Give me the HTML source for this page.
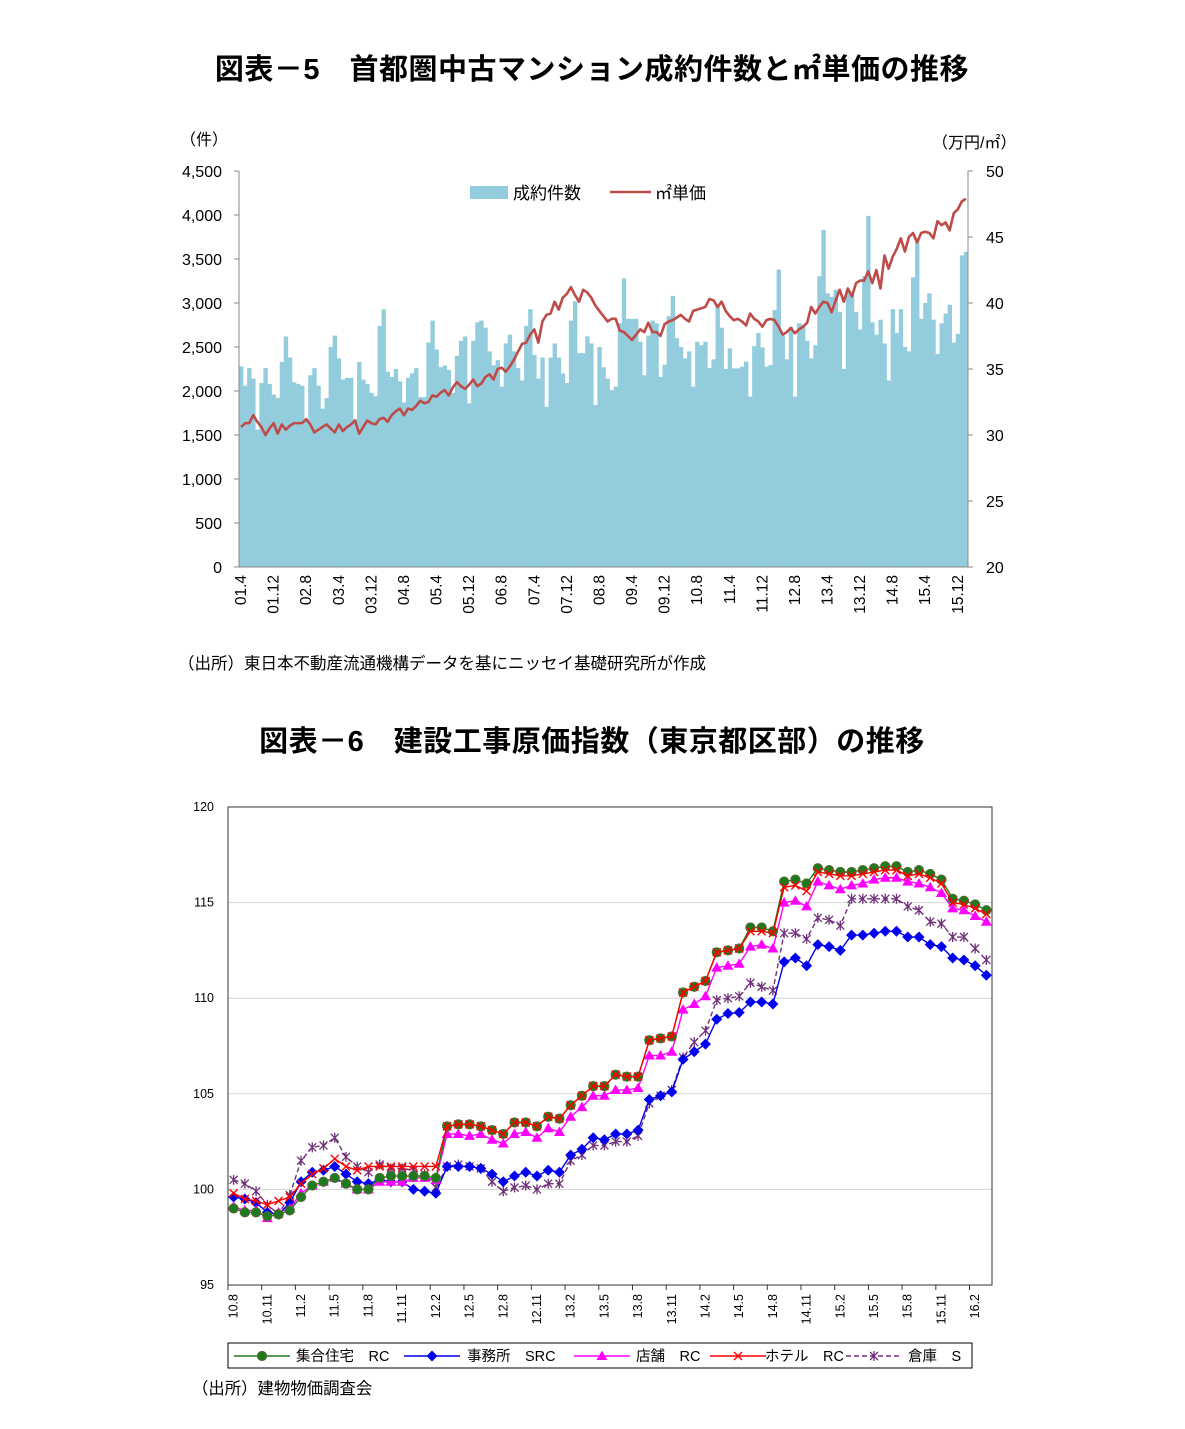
<!DOCTYPE html>
<html><head><meta charset="utf-8">
<style>
body{margin:0;background:#fff;width:1185px;height:1424px;overflow:hidden;font-family:"Liberation Sans","Noto Sans CJK JP",sans-serif;}
svg text{font-family:"Liberation Sans","Noto Sans CJK JP",sans-serif;}
</style></head>
<body>
<svg id="page" width="1185" height="1424" viewBox="0 0 1185 1424" xmlns="http://www.w3.org/2000/svg">
<text x="592" y="79" text-anchor="middle" font-size="29" letter-spacing="0.5" font-weight="bold" fill="#000">図表－5　首都圏中古マンション成約件数と㎡単価の推移</text>
<g id="c1"></g>
<text x="178" y="669" font-size="16.5" fill="#000">（出所）東日本不動産流通機構データを基にニッセイ基礎研究所が作成</text>
<text x="592" y="751" text-anchor="middle" font-size="29" letter-spacing="0.5" font-weight="bold" fill="#000">図表－6　建設工事原価指数（東京都区部）の推移</text>
<g id="c2"></g>
<text x="192" y="1394" font-size="16.4" fill="#000">（出所）建物物価調査会</text>
</svg>
<script>
// ===== Chart 1 data =====
const c1Labels=["01.4","01.12","02.8","03.4","03.12","04.8","05.4","05.12","06.8","07.4","07.12","08.8","09.4","09.12","10.8","11.4","11.12","12.8","13.4","13.12","14.8","15.4","15.12"];
const c1LeftTicks=[0,500,1000,1500,2000,2500,3000,3500,4000,4500];
const c1RightTicks=[20,25,30,35,40,45,50];
const contracts=[2280,2060,2260,2140,1560,2090,2260,2080,1960,1920,2330,2620,2380,2100,2080,2060,1670,2180,2260,2060,1800,1920,2500,2630,2370,2130,2150,2150,1680,2330,2130,2080,1980,1940,2740,2930,2220,2160,2250,2110,1870,2150,2200,2260,1930,1930,2550,2800,2470,2270,2290,2240,1980,2400,2570,2620,1860,2570,2780,2800,
2720,2450,2290,2350,2050,2540,2640,2450,2260,2120,2740,2930,2410,2140,2380,1820,2380,2540,2380,2200,2090,2800,3020,2430,2430,2620,2540,1840,2500,2270,2140,2010,2050,2770,3280,2820,2820,2820,2560,2180,2630,2800,2770,2160,2300,2850,3080,2600,2500,2370,2450,2050,2560,2520,2560,2260,2360,2960,2720,2250,
2485,2257,2257,2276,2333,1936,2510,2660,2495,2276,2295,2920,3380,2630,2360,2730,1936,2770,2750,2570,2370,2520,3305,3830,3110,3070,3150,2900,2250,3150,3110,2900,2700,3305,3990,2780,2640,2810,2540,2120,2930,2660,2930,2500,2450,3290,3720,2820,3000,3110,2810,2420,2770,2880,2980,2550,2650,3540,3580];
const unitPrice=[30.6,30.9,30.9,31.5,31.0,30.6,30.0,30.5,30.9,30.1,30.8,30.4,30.7,30.9,30.9,30.9,31.2,30.8,30.2,30.4,30.6,30.8,30.5,30.2,30.8,30.3,30.6,30.8,31.1,30.1,30.6,31.1,30.9,30.8,31.2,31.3,31.0,31.5,31.8,32.0,31.5,32.0,31.9,32.2,32.6,32.4,32.5,33.0,32.9,33.2,33.4,33.0,33.6,34.0,33.7,33.5,33.8,34.2,33.7,
33.9,34.4,34.6,34.2,35.0,35.1,34.8,35.2,35.7,36.3,36.9,37.0,37.6,38.0,37.0,38.6,39.1,39.2,40.1,39.5,40.4,40.7,41.2,40.6,40.1,41.0,40.8,40.4,39.8,39.4,39.0,38.6,38.8,38.8,37.9,37.8,37.5,37.2,37.6,38.0,37.8,38.5,37.8,37.8,37.5,38.4,38.6,38.7,38.9,39.1,38.8,38.6,39.4,39.5,39.6,39.7,40.3,40.2,39.7,40.1,39.4,
39.0,38.7,38.8,38.6,38.3,39.2,38.8,38.6,38.2,38.7,38.8,38.7,38.2,37.6,37.8,38.1,37.7,38.0,38.2,38.5,39.7,39.2,39.7,40.1,40.0,39.3,40.2,41.0,40.1,41.1,40.5,41.5,41.7,41.7,42.4,41.5,42.5,41.1,43.6,42.6,43.5,44.1,44.9,43.9,45.0,45.3,44.6,45.3,45.4,45.3,44.9,46.2,45.9,46.1,45.5,46.8,47.1,47.7,47.9];

// ===== Chart 2 data =====
const c2Labels=["10.8","10.11","11.2","11.5","11.8","11.11","12.2","12.5","12.8","12.11","13.2","13.5","13.8","13.11","14.2","14.5","14.8","14.11","15.2","15.5","15.8","15.11","16.2"];
const c2Ticks=[95,100,105,110,115,120];
const housingRC=[99.0,98.8,98.8,98.6,98.7,98.9,99.6,100.2,100.4,100.6,100.3,100.0,100.0,100.6,100.7,100.7,100.7,100.7,100.6,103.3,103.4,103.4,
103.3,103.1,102.9,103.5,103.5,103.3,103.8,103.7,104.4,104.9,105.4,105.4,106.0,105.9,105.9,107.8,107.9,108.0,110.3,110.6,110.9,
112.4,112.5,112.6,113.7,113.7,113.5,116.1,116.2,116.0,116.8,116.7,116.6,116.6,116.7,116.8,116.9,116.9,116.6,116.7,116.5,116.2,115.2,115.1,114.9,114.6];
const officeSRC=[99.6,99.5,99.3,98.8,98.7,99.3,100.4,100.9,101.0,101.2,100.8,100.4,100.3,100.5,100.4,100.4,100.0,99.9,99.8,101.2,101.2,101.2,
101.1,100.8,100.4,100.7,100.9,100.7,101.0,100.9,101.8,102.1,102.7,102.6,102.9,102.9,103.1,104.7,104.9,105.1,106.8,107.2,107.6,
108.9,109.2,109.25,109.8,109.8,109.7,111.9,112.1,111.7,112.8,112.7,112.5,113.3,113.3,113.4,113.5,113.5,113.2,113.2,112.8,112.7,112.1,112.0,111.7,111.2];
const shopRC=[99.1,98.9,98.9,98.5,98.8,99.0,99.8,100.2,100.4,100.6,100.3,100.0,100.0,100.4,100.4,100.4,100.6,100.6,100.5,102.9,102.9,102.8,
102.9,102.6,102.4,102.9,103.0,102.7,103.2,103.0,103.8,104.3,104.9,104.9,105.2,105.2,105.3,107.0,107.0,107.2,109.4,109.7,110.1,
111.6,111.7,111.8,112.7,112.8,112.6,115.0,115.1,114.8,116.1,115.9,115.7,115.9,116.0,116.2,116.3,116.3,116.1,116.0,115.8,115.5,114.7,114.6,114.3,114.0];
const hotelRC=[99.8,99.5,99.4,99.2,99.4,99.6,100.3,100.8,101.1,101.6,101.2,101.0,101.2,101.2,101.2,101.2,101.2,101.2,101.2,103.3,103.4,103.4,
103.3,103.1,102.9,103.5,103.5,103.3,103.8,103.7,104.4,104.9,105.4,105.4,106.0,105.9,105.9,107.8,107.9,108.0,110.3,110.6,110.9,
112.4,112.5,112.6,113.5,113.5,113.4,115.8,115.9,115.6,116.6,116.5,116.4,116.4,116.5,116.6,116.7,116.7,116.4,116.5,116.3,116.0,115.0,114.9,114.7,114.4];
const warehouseS=[100.5,100.3,99.9,99.2,98.7,99.7,101.5,102.2,102.3,102.7,101.7,101.2,100.9,101.3,101.1,101.1,101.0,100.8,100.1,101.2,101.3,101.2,
101.1,100.4,99.9,100.1,100.2,100.0,100.3,100.3,101.5,101.8,102.3,102.3,102.5,102.5,102.8,104.5,104.9,105.2,106.9,107.7,108.3,
109.9,110.0,110.1,110.8,110.6,110.4,113.4,113.4,113.1,114.2,114.1,113.8,115.2,115.2,115.2,115.2,115.2,114.8,114.6,114.0,113.9,113.2,113.2,112.6,112.0];

const NS='http://www.w3.org/2000/svg';
function mk(parent,tag,attrs,text){const e=document.createElementNS(NS,tag);for(const k in attrs)e.setAttribute(k,attrs[k]);if(text!==undefined)e.textContent=text;parent.appendChild(e);return e;}

// ===== Chart 1 =====
(function(){
const g=document.getElementById('c1');
const L=239,R=968,T=171,B=567;
const n=contracts.length;const bw=(R-L)/n;
const xC=i=>L+(i+0.5)*bw;
const yL=v=>B-v*(B-T)/4500;
const yR=p=>B-(p-20)*(B-T)/30;
contracts.forEach((v,i)=>{
  const r=mk(g,'rect',{x:(L+i*bw).toFixed(2),y:yL(v).toFixed(2),width:(bw+0.3).toFixed(2),height:(B-yL(v)).toFixed(2),fill:'#93CDDD'});
  
  
});
const pts=unitPrice.map((p,i)=>xC(i).toFixed(2)+','+yR(p).toFixed(2)).join(' ');
const pl=mk(g,'polyline',{points:pts,fill:'none',stroke:'#BE4B48','stroke-width':2.6,'stroke-linejoin':'round'});


const ax=mk(g,'line',{x1:L,y1:T,x2:L,y2:B,stroke:'#888','stroke-width':1});


const ax2=mk(g,'line',{x1:R,y1:T,x2:R,y2:B,stroke:'#888','stroke-width':1});


const ax3=mk(g,'line',{x1:L,y1:B,x2:R,y2:B,stroke:'#888','stroke-width':1});


c1LeftTicks.forEach(v=>{
  const y=yL(v);
  mk(g,'line',{x1:L-5,y1:y,x2:L,y2:y,stroke:'#888'});
  const t=mk(g,'text',{x:222,y:y+6,'text-anchor':'end','font-size':16,fill:'#000'},v.toLocaleString('en-US'));
  
  
});
c1RightTicks.forEach(v=>{
  const y=yR(v);
  mk(g,'line',{x1:R,y1:y,x2:R+5,y2:y,stroke:'#888'});
  const t=mk(g,'text',{x:986,y:y+6,'font-size':16,fill:'#000'},String(v));
  
  
});
c1Labels.forEach((lb,k)=>{
  const x=xC(k*8);
  const t=mk(g,'text',{x:0,y:0,transform:`translate(${(x+5).toFixed(1)},575) rotate(-90)`,'text-anchor':'end','font-size':15.5,fill:'#000'},lb);
  
  
});
const u1=mk(g,'text',{x:180,y:145,'font-size':16,fill:'#000'},'（件）');


const u2=mk(g,'text',{x:932,y:148,'font-size':16,fill:'#000'},'（万円/㎡）');


const lg=mk(g,'g',{});


mk(lg,'rect',{x:470,y:186,width:38,height:13,fill:'#93CDDD'});
mk(lg,'text',{x:513,y:199,'font-size':17,fill:'#000'},'成約件数');
mk(lg,'line',{x1:610,y1:192,x2:651,y2:192,stroke:'#BE4B48','stroke-width':2.6});
mk(lg,'text',{x:655,y:199,'font-size':17,fill:'#000'},'㎡単価');
})();

// ===== Chart 2 =====
(function(){
const g=document.getElementById('c2');
const L=228,R=992,T=807,B=1285;
const n=housingRC.length;const cw=(R-L)/n;
const xC=i=>L+(i+0.5)*cw;
const y=v=>B-(v-95)*(B-T)/25;
c2Ticks.forEach(v=>{
  if(v>95&&v<120){
    const gl=mk(g,'line',{x1:L,y1:y(v),x2:R,y2:y(v),stroke:'#d4d4d4','stroke-width':1});
    
    
  }
  const t=mk(g,'text',{x:214,y:y(v)+4,'text-anchor':'end','font-size':12.5,fill:'#000'},String(v));
  
  
});
const fr=mk(g,'rect',{x:L,y:T,width:R-L,height:B-T,fill:'none',stroke:'#333','stroke-width':1});


for(let k=0;k<=n;k+=3){const x=L+k*cw;mk(g,'line',{x1:x,y1:B,x2:x,y2:B+5,stroke:'#333'});}
c2Labels.forEach((lb,k)=>{
  const x=xC(k*3);
  const t=mk(g,'text',{x:0,y:0,transform:`translate(${(x+4).toFixed(1)},1294) rotate(-90)`,'text-anchor':'end','font-size':12.5,fill:'#000'},lb);
  
  
});
function marker(p,type,x,yy,color){
  if(type==='circle')return mk(p,'circle',{cx:x,cy:yy,r:4.6,fill:'#1F7A1F',stroke:'#556B2F','stroke-width':1});
  if(type==='diamond')return mk(p,'polygon',{points:`${x},${yy-5.5} ${x+5.5},${yy} ${x},${yy+5.5} ${x-5.5},${yy}`,fill:color});
  if(type==='tri')return mk(p,'polygon',{points:`${x},${yy-5.5} ${x+5.5},${yy+4} ${x-5.5},${yy+4}`,fill:color});
  if(type==='x')return mk(p,'path',{d:`M${x-4},${yy-4}L${x+4},${yy+4}M${x-4},${yy+4}L${x+4},${yy-4}`,stroke:color,'stroke-width':1.4,fill:'none'});
  if(type==='star')return mk(p,'path',{d:`M${x-4},${yy-4}L${x+4},${yy+4}M${x-4},${yy+4}L${x+4},${yy-4}M${x},${yy-5}L${x},${yy+5}`,stroke:color,'stroke-width':1.3,fill:'none'});
}
const series=[
 {d:warehouseS,c:'#70307A',m:'star',dash:'5,3',name:'warehouse-s-series'},
 {d:officeSRC,c:'#0000EE',m:'diamond',dash:null,name:'office-src-series'},
 {d:shopRC,c:'#FF00FF',m:'tri',dash:null,name:'shop-rc-series'},
 {d:housingRC,c:'#1F7A1F',m:'circle',dash:null,name:'housing-rc-series'},
 {d:hotelRC,c:'#FF0000',m:'x',dash:null,name:'hotel-rc-series'}
];
series.forEach(s=>{
  const sg=mk(g,'g',{});
  
  
  const a={points:s.d.map((v,i)=>xC(i).toFixed(2)+','+y(v).toFixed(2)).join(' '),fill:'none',stroke:s.c,'stroke-width':1.4};
  if(s.dash)a['stroke-dasharray']=s.dash;
  mk(sg,'polyline',a);
  s.d.forEach((v,i)=>{
    const mm=marker(sg,s.m,+xC(i).toFixed(2),+y(v).toFixed(2),s.c);
    
    
  });
});
const lg=mk(g,'g',{});


mk(lg,'rect',{x:228,y:1343,width:744,height:25,fill:'#fff',stroke:'#000','stroke-width':1});
const items=[
 {x:234,tx:296,c:'#1F7A1F',m:'circle',t:'集合住宅　RC',dash:null},
 {x:404,tx:467,c:'#0000EE',m:'diamond',t:'事務所　SRC',dash:null},
 {x:574,tx:636,c:'#FF00FF',m:'tri',t:'店舗　RC',dash:null},
 {x:710,tx:765,c:'#FF0000',m:'x',t:'ホテル　RC',dash:null},
 {x:846,tx:908,c:'#70307A',m:'star',t:'倉庫　S',dash:'5,3'}
];
items.forEach(it=>{
  const eg=mk(lg,'g',{});
  
  
  const a={x1:it.x,y1:1356,x2:it.x+56,y2:1356,stroke:it.c,'stroke-width':1.4};
  if(it.dash)a['stroke-dasharray']=it.dash;
  mk(eg,'line',a);
  marker(eg,it.m,it.x+28,1356,it.c);
  mk(eg,'text',{x:it.tx,y:1361,'font-size':14.5,fill:'#000'},it.t);
});
})();
</script>
</body></html>
